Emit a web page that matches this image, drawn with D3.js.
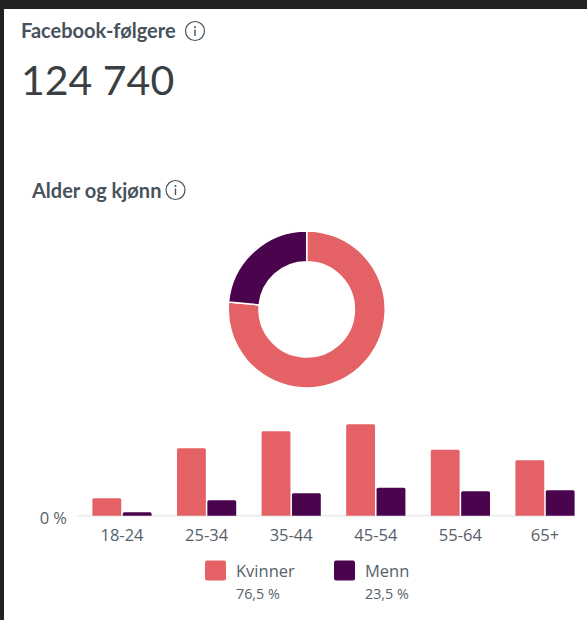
<!DOCTYPE html>
<html lang="no">
<head>
	<meta charset="UTF-8">
	<style>
		html, body { margin: 0; padding: 0; background: #fff; overflow: hidden; }
		svg { display: block; }
		text { font-family: "Open Sans", sans-serif; fill: #56616b; }
		.head { font-family: Lato, sans-serif; font-weight: 700; fill: #47525c; }
	</style>
	<script src="https://d3js.org/d3.v7.min.js"></script>
</head>
<body>
	<svg width="587" height="620"></svg>
	<script>
		const ageGroups = ["18-24", "25-34", "35-44", "45-54", "55-64", "65+"];
		const seriesNames = ["Kvinner", "Menn"];
		const kvinner = [3.5, 13.5, 16.9, 18.3, 13.2, 11.1];
		const menn = [0.7, 3.1, 4.5, 5.6, 4.9, 5.1];
		const shares = [76.5, 23.5];
		const shareLabels = ["76,5 %", "23,5 %"];
		const zeroLabel = "0 %";
		const colors = ["#e46266", "#4a044e"];

		const svg = d3.select("svg");

		// dark window frame from the screenshot
		svg.append("rect").attr("width", 587).attr("height", 9).attr("fill", "#222222");
		svg.append("rect").attr("width", 4).attr("height", 620).attr("fill", "#222222");

		function infoIcon(cx, cy) {
			const g = svg.append("g").attr("transform", `translate(${cx},${cy})`);
			g.append("circle").attr("r", 9.5).attr("fill", "none").attr("stroke", "#47525c").attr("stroke-width", 1.2);
			g.append("circle").attr("cy", -4).attr("r", 1).attr("fill", "#47525c");
			g.append("line").attr("y1", -1.5).attr("y2", 5).attr("stroke", "#47525c").attr("stroke-width", 1.4);
		}

		svg.append("text").attr("class", "head").attr("x", 21).attr("y", 38)
			.style("font-size", "20px").text("Facebook-følgere");
		infoIcon(195, 31);

		svg.append("text").attr("x", 21).attr("y", 95)
			.style("font-family", "Lato, sans-serif").style("font-weight", 400)
			.style("font-size", "41px").style("fill", "#3a3f44").text("124 740");

		svg.append("text").attr("class", "head").attr("x", 32).attr("y", 198)
			.style("font-size", "20px").text("Alder og kjønn");
		infoIcon(175.5, 190);

		// donut
		const pie = d3.pie().sort(null).value(d => d);
		const arc = d3.arc().innerRadius(47.7).outerRadius(78.5);
		svg.append("g").attr("transform", "translate(306.7,309.4)")
			.selectAll("path")
			.data(pie(shares))
			.join("path")
			.attr("d", arc)
			.attr("fill", (d, i) => colors[i])
			.attr("stroke", "#fff")
			.attr("stroke-width", 1.5);

		// bars
		const x = d3.scaleBand().domain(ageGroups).range([79.7, 587.3]).paddingInner(0.3).paddingOuter(0.15);
		const inner = d3.scaleBand().domain(seriesNames).range([0, x.bandwidth()]).paddingInner(0.05);
		const y = d3.scaleLinear().domain([0, 18.3]).range([515.7, 424.3]);
		const rows = [kvinner, menn];

		svg.append("line").attr("x1", 77).attr("x2", 574).attr("y1", y(0)).attr("y2", y(0))
			.attr("stroke", "#eeeeee").attr("stroke-width", 2);

		const groups = svg.selectAll(".group")
			.data(ageGroups)
			.join("g")
			.attr("class", "group")
			.attr("transform", d => `translate(${x(d)},0)`);

		seriesNames.forEach(function(name, s) {
			groups.append("path")
				.attr("fill", colors[s])
				.attr("d", function(d, i) {
					const left = inner(name), w = inner.bandwidth(), top = y(rows[s][i]), r = 1.5;
					return `M${left},${y(0)}V${top + r}Q${left},${top} ${left + r},${top}H${left + w - r}Q${left + w},${top} ${left + w},${top + r}V${y(0)}Z`;
				});
		});

		groups.append("text")
			.attr("x", x.bandwidth() / 2)
			.attr("y", 540.5)
			.attr("text-anchor", "middle")
			.style("font-size", "16.5px")
			.text(d => d);

		svg.append("text").attr("x", 67).attr("y", 523.5).attr("text-anchor", "end")
			.style("font-size", "16.5px").text(zeroLabel);

		// legend
		const legendX = [205, 334];
		seriesNames.forEach(function(name, s) {
			svg.append("rect").attr("x", legendX[s]).attr("y", 560.5).attr("width", 21).attr("height", 20).attr("rx", 2)
				.attr("fill", colors[s]);
			svg.append("text").attr("x", legendX[s] + 31).attr("y", 576.5).style("font-size", "16.5px").text(name);
			svg.append("text").attr("x", legendX[s] + 31).attr("y", 598.5).style("font-size", "14.3px").text(shareLabels[s]);
		});
	</script>
</body>
</html>
